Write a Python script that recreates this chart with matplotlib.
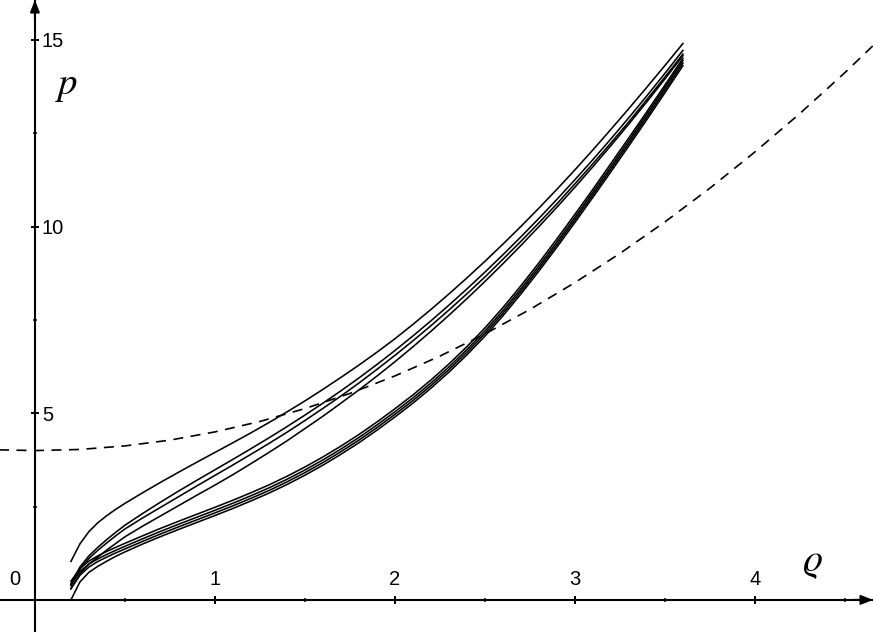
import matplotlib
matplotlib.use("Agg")
import matplotlib.pyplot as plt

plt.rcParams['mathtext.fontset'] = 'stix'

# density grid shared by the solid curves
rho = [0.2, 0.25, 0.3, 0.35, 0.4, 0.45, 0.5, 0.6, 0.7, 0.8, 0.9, 1.0,
       1.1, 1.2, 1.3, 1.4, 1.5, 1.6, 1.7, 1.8, 1.9, 2.0, 2.1, 2.2,
       2.3, 2.4, 2.5, 2.6, 2.7, 2.8, 2.9, 3.0, 3.1, 3.2, 3.3, 3.4, 3.5, 3.6]

# pressure curves: top one, middle three, lower bundle of four
p_top = [1.03, 1.50, 1.83, 2.07, 2.26, 2.43, 2.585, 2.875, 3.155, 3.425, 3.69, 3.95,
         4.21, 4.475, 4.75, 5.035, 5.33, 5.64, 5.96, 6.29, 6.635, 6.995, 7.38, 7.78,
         8.195, 8.625, 9.07, 9.53, 10.005, 10.495, 11.0, 11.52, 12.055, 12.605, 13.165,
         13.735, 14.315, 14.905]
p_mid1 = [0.43, 0.88, 1.18, 1.41, 1.62, 1.815, 2.0, 2.32, 2.625, 2.92, 3.205, 3.485,
          3.765, 4.05, 4.34, 4.64, 4.95, 5.27, 5.60, 5.945, 6.305, 6.68, 7.07, 7.475,
          7.895, 8.33, 8.78, 9.245, 9.725, 10.22, 10.73, 11.255, 11.795, 12.35, 12.92,
          13.505, 14.105, 14.72]
p_mid2 = [0.38, 0.82, 1.11, 1.33, 1.53, 1.72, 1.90, 2.20, 2.485, 2.77, 3.055, 3.335,
          3.615, 3.90, 4.19, 4.49, 4.805, 5.13, 5.46, 5.81, 6.175, 6.55, 6.94, 7.345,
          7.765, 8.20, 8.65, 9.125, 9.605, 10.10, 10.61, 11.145, 11.685, 12.24, 12.81,
          13.405, 14.005, 14.62]
p_mid3 = [0.30, 0.70, 0.96, 1.15, 1.34, 1.515, 1.69, 1.98, 2.255, 2.53, 2.805, 3.075,
          3.355, 3.65, 3.95, 4.26, 4.59, 4.92, 5.27, 5.625, 5.995, 6.38, 6.78, 7.195,
          7.625, 8.07, 8.53, 9.005, 9.495, 10.0, 10.52, 11.055, 11.605, 12.17, 12.75,
          13.345, 13.955, 14.58]
p_low1 = [0.50, 0.84, 1.04, 1.18, 1.30, 1.41, 1.515, 1.72, 1.92, 2.11, 2.295, 2.48,
          2.67, 2.87, 3.08, 3.31, 3.56, 3.83, 4.12, 4.43, 4.765, 5.12, 5.49, 5.89,
          6.32, 6.785, 7.285, 7.83, 8.415, 9.03, 9.67, 10.33, 11.0, 11.69, 12.38,
          13.08, 13.79, 14.51]
p_low2 = [0.42, 0.76, 0.96, 1.10, 1.22, 1.33, 1.435, 1.64, 1.84, 2.03, 2.215, 2.40,
          2.59, 2.79, 3.00, 3.23, 3.48, 3.75, 4.04, 4.35, 4.685, 5.04, 5.41, 5.81,
          6.24, 6.705, 7.205, 7.75, 8.335, 8.95, 9.59, 10.25, 10.925, 11.61, 12.305,
          13.01, 13.725, 14.45]
p_low3 = [0.30, 0.66, 0.88, 1.03, 1.15, 1.26, 1.365, 1.57, 1.77, 1.96, 2.145, 2.33,
          2.52, 2.72, 2.93, 3.16, 3.41, 3.68, 3.97, 4.28, 4.615, 4.97, 5.34, 5.74,
          6.17, 6.635, 7.135, 7.68, 8.265, 8.88, 9.52, 10.18, 10.855, 11.54, 12.235,
          12.94, 13.655, 14.38]
p_low4 = [0.00, 0.48, 0.74, 0.90, 1.04, 1.17, 1.285, 1.50, 1.70, 1.89, 2.075, 2.26,
          2.45, 2.65, 2.86, 3.09, 3.34, 3.61, 3.90, 4.21, 4.545, 4.90, 5.27, 5.67,
          6.10, 6.565, 7.065, 7.61, 8.195, 8.81, 9.45, 10.11, 10.785, 11.47, 12.165,
          12.87, 13.585, 14.31]

# dashed reference curve
dash_rho = [-0.2, 0.0, 0.25, 0.5, 0.75, 1.0, 1.25, 1.5, 1.75, 2.0, 2.25, 2.5,
            2.75, 3.0, 3.25, 3.5, 3.75, 4.0, 4.25, 4.5, 4.75]
dash_p = [4.02, 4.00, 4.03, 4.125, 4.28, 4.50, 4.78, 5.125, 5.53, 6.00, 6.53, 7.125,
          7.78, 8.50, 9.28, 10.125, 11.03, 12.00, 13.03, 14.125, 15.28]

x_major = [1, 2, 3, 4]
x_minor = [0.5, 1.5, 2.5, 3.5, 4.5]
y_major = [5, 10, 15]
y_minor = [2.5, 7.5, 12.5]

fig = plt.figure(figsize=(8.73, 6.32), dpi=100)
ax = fig.add_axes([0, 0, 1, 1])
ax.set_xlim(-0.194, 4.656)
ax.set_ylim(-0.86, 16.07)

for p in [p_top, p_mid1, p_mid2, p_mid3, p_low1, p_low2, p_low3, p_low4]:
    ax.plot(rho, p, color='black', lw=1.15, solid_joinstyle='round')

ax.plot(dash_rho, dash_p, color='black', lw=1.2, dashes=(6, 4.5))

# axes through the origin
for side in ['left', 'bottom']:
    ax.spines[side].set_visible(False)
ax.spines['top'].set_position(('data', 0))
ax.spines['right'].set_position(('data', 0))
ax.spines['top'].set_linewidth(1.5)
ax.spines['right'].set_linewidth(1.5)
ax.xaxis.set_ticks_position('top')
ax.yaxis.set_ticks_position('right')

ax.set_xticks(x_major)
ax.set_xticks(x_minor, minor=True)
ax.set_yticks(y_major)
ax.set_yticks(y_minor, minor=True)
ax.set_xticklabels([str(v) for v in x_major])
ax.set_yticklabels([str(v) for v in y_major])

ax.tick_params(which='major', direction='inout', length=6, width=1.4,
               labelsize=14.5, colors='black')
ax.tick_params(which='minor', direction='inout', length=3, width=1.1)
ax.tick_params(axis='x', which='major', pad=5)
ax.tick_params(axis='y', which='major', pad=2)
for lab in ax.get_xticklabels() + ax.get_yticklabels():
    lab.set_fontfamily('Liberation Sans')

ax.annotate('0', xy=(0, 0), xytext=(-14.5, 14.5), textcoords='offset points',
            ha='center', va='center', fontsize=14.5, family='Liberation Sans')

# arrow heads
ax.annotate('', xy=(1, 0), xycoords=('axes fraction', 'data'),
            xytext=(-14, 0), textcoords='offset points',
            arrowprops=dict(arrowstyle='-|>,head_length=0.7,head_width=0.28',
                            color='black', lw=1.5, shrinkA=0, shrinkB=0))
ax.annotate('', xy=(0, 1), xycoords=('data', 'axes fraction'),
            xytext=(0, -14), textcoords='offset points',
            arrowprops=dict(arrowstyle='-|>,head_length=0.7,head_width=0.28',
                            color='black', lw=1.5, shrinkA=0, shrinkB=0))

ax.text(0.178, 13.8, r'$p$', fontsize=28, ha='center', va='center')
ax.text(4.32, 1.02, r'$\varrho$', fontsize=28, ha='center', va='center')

fig.savefig('out.png', dpi=100, facecolor='white')
